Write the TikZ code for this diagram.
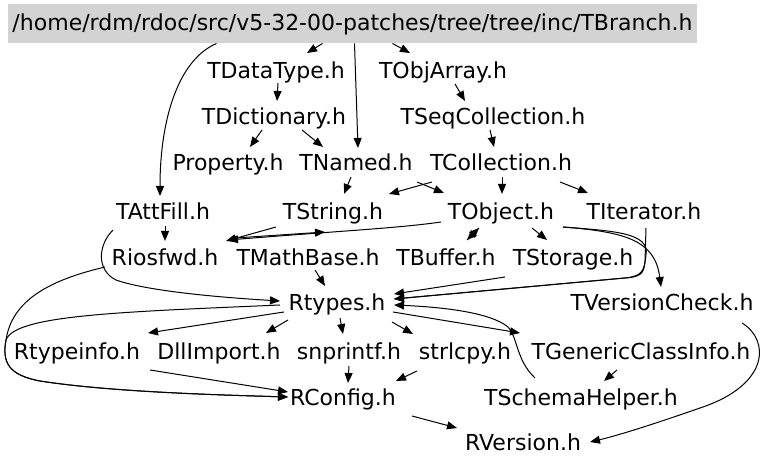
\documentclass[tikz,border=0pt]{standalone}
\usepackage{fontspec}
\setmainfont{DejaVu Sans}
\usetikzlibrary{arrows.meta,calc}
\definecolor{hdrgray}{RGB}{211,211,211}
\tikzset{
  hfile/.style={inner sep=0pt, text height=0.73em, text depth=0pt,
                font=\fontsize{11}{13}\selectfont},
  hroot/.style={hfile, fill=hdrgray, minimum width=344.5pt, minimum height=19.5pt},
  inc/.style={-{Triangle[length=5pt,width=4pt]}, line width=0.5pt, black},
}

\begin{document}
\begin{tikzpicture}[x=0.5pt, y=-0.5pt]
  \useasboundingbox (0,0) rectangle (768,469);
  % files
  \node[hroot] (tbranch) at (352.5,23.5) {/home/rdm/rdoc/src/v5-32-00-patches/tree/tree/inc/TBranch.h};
  \node[hfile] (tdatatype) at (276,71) {TDataType.h};
  \node[hfile] (tobjarray) at (443,71) {TObjArray.h};
  \node[hfile] (tdictionary) at (274,117) {TDictionary.h};
  \node[hfile] (tseqcoll) at (493,117) {TSeqCollection.h};
  \node[hfile] (property) at (228,163) {Property.h};
  \node[hfile] (tnamed) at (356,163) {TNamed.h};
  \node[hfile] (tcollection) at (501,163) {TCollection.h};
  \node[hfile] (tattfill) at (163,212) {TAttFill.h};
  \node[hfile] (tstring) at (333,212) {TString.h};
  \node[hfile] (tobject) at (501,212) {TObject.h};
  \node[hfile] (titerator) at (644,212) {TIterator.h};
  \node[hfile] (riosfwd) at (165,258) {Riosfwd.h};
  \node[hfile] (tmathbase) at (308,258) {TMathBase.h};
  \node[hfile] (tbuffer) at (446,258) {TBuffer.h};
  \node[hfile] (tstorage) at (573,258) {TStorage.h};
  \node[hfile] (rtypes) at (337,303) {Rtypes.h};
  \node[hfile] (tversioncheck) at (662,303) {TVersionCheck.h};
  \node[hfile] (rtypeinfo) at (77,352) {Rtypeinfo.h};
  \node[hfile] (dllimport) at (219,352) {DllImport.h};
  \node[hfile] (snprintf) at (349,352) {snprintf.h};
  \node[hfile] (strlcpy) at (465,352) {strlcpy.h};
  \node[hfile] (tgeneric) at (641,352) {TGenericClassInfo.h};
  \node[hfile] (rconfig) at (343,398) {RConfig.h};
  \node[hfile] (tschema) at (581,398) {TSchemaHelper.h};
  \node[hfile] (rversion) at (523,443) {RVersion.h};

  % TBranch.h
  \draw[inc] ($(tbranch)+(-30,20)$) -- ($(tdatatype)+(31,-18)$);
  \draw[inc] ($(tbranch)+(40,20)$) -- ($(tobjarray)+(-33,-18)$);
  \draw[inc] ($(tbranch)+(2,20)$) -- ($(tnamed)+(2,-15)$);
  \draw[inc] ($(tbranch)+(-136,20)$) .. controls (178,60) and (160,120) .. ($(tattfill)+(-3,-16)$);
  % upper levels
  \draw[inc] ($(tdatatype)+(2,12)$) -- ($(tdictionary)+(3,-16)$);
  \draw[inc] ($(tobjarray)+(12,13)$) -- ($(tseqcoll)+(-28,-16)$);
  \draw[inc] ($(tdictionary)+(-12,13)$) -- ($(property)+(22,-16)$);
  \draw[inc] ($(tdictionary)+(28,13)$) -- ($(tnamed)+(-33,-16)$);
  \draw[inc] ($(tseqcoll)+(-3,13)$) -- ($(tcollection)+(-7,-16)$);
  \draw[inc] ($(tnamed)+(-5,14)$) -- ($(tstring)+(11,-18)$);
  \draw[inc] ($(tnamed)+(61,19)$) -- ($(tobject)+(-57,-19)$);
  \draw[inc] ($(tcollection)+(-69,19)$) -- ($(tstring)+(56,-18)$);
  \draw[inc] ($(tcollection)+(1,14)$) -- ($(tobject)+(1,-18)$);
  \draw[inc] ($(tcollection)+(59,19)$) -- ($(titerator)+(-56,-19)$);
  % middle
  \draw[inc] ($(tattfill)+(2,14)$) -- ($(riosfwd)+(0,-17)$);
  \draw[inc] ($(tattfill)+(-50,18)$) .. controls (98,245) and (96,270) .. (116,280)
             .. controls (150,292) and (230,298) .. ($(rtypes)+(-57,-2)$);
  \draw[inc] ($(tstring)+(-57,15)$) -- ($(riosfwd)+(61,-17)$);
  \draw[inc] ($(tobject)+(-60,10)$) .. controls (400,228) and (340,231) .. ($(riosfwd)+(63,-18)$);
  \draw[inc] ($(tstring)+(-98,26)$) -- ($(tmathbase)+(17,-26)$);
  \draw[inc] ($(tobject)+(-22,16)$) -- ($(tbuffer)+(21,-18)$);
  \draw[inc] ($(tbuffer)+(21,-18)$) -- ($(tobject)+(-22,16)$);
  \draw[inc] ($(tobject)+(31,16)$) -- ($(tstorage)+(-26,-18)$);
  \draw[inc] ($(tobject)+(62,15)$) .. controls (625,232) and (655,240) .. ($(tversioncheck)+(-1,-16)$);
  \draw[inc] ($(tobject)+(62,15)$) .. controls (615,231) and (650,233) .. (646,255)
             .. controls (644,272) and (642,276) .. (625,278) -- ($(rtypes)+(57,-4)$);
  \draw[inc] ($(titerator)+(2,16)$) -- (645,262) .. controls (644,274) and (640,277) .. (625,278)
             -- ($(rtypes)+(57,-4)$);
  \draw[inc] ($(tstorage)+(-68,19)$) -- ($(rtypes)+(57,-9)$);
  \draw[inc] ($(tmathbase)+(7,12)$) -- ($(rtypes)+(-12,-17)$);
  % Rtypes.h
  \draw[inc] ($(rtypes)+(-53,9)$) -- ($(rtypeinfo)+(71,-19)$);
  \draw[inc] ($(rtypes)+(-49,17)$) -- ($(dllimport)+(47,-19)$);
  \draw[inc] ($(rtypes)+(3,15)$) -- ($(snprintf)+(-6,-18)$);
  \draw[inc] ($(rtypes)+(55,19)$) -- ($(strlcpy)+(-52,-18)$);
  \draw[inc] ($(rtypes)+(56,9)$) -- ($(tgeneric)+(-121,-19)$);
  \draw[inc] ($(rtypes)+(-57,2)$) .. controls (120,312) and (15,315) .. (6,340)
             .. controls (2,362) and (8,375) .. (40,381)
             .. controls (110,392) and (220,395) .. ($(rconfig)+(-55,-1)$);
  \draw[inc] ($(riosfwd)+(-60,9)$) .. controls (50,280) and (12,300) .. (6,340)
             .. controls (2,362) and (8,375) .. (40,381)
             .. controls (110,392) and (220,395) .. ($(rconfig)+(-55,-1)$);
  \draw[inc] ($(tschema)+(-46,-20)$) .. controls (516,360) and (518,338) .. (508,327)
             .. controls (490,312) and (440,307) .. ($(rtypes)+(57,2)$);
  % bottom
  \draw[inc] ($(rtypeinfo)+(73,18)$) -- ($(rconfig)+(-55,-6)$);
  \draw[inc] ($(snprintf)+(0,14)$) -- ($(rconfig)+(5,-15)$);
  \draw[inc] ($(strlcpy)+(-48,19)$) -- ($(rconfig)+(53,-17)$);
  \draw[inc] ($(tgeneric)+(-24,18)$) -- ($(tschema)+(23,-17)$);
  \draw[inc] ($(rconfig)+(69,18)$) -- ($(rversion)+(-66,-15)$);
  \draw[inc] ($(tversioncheck)+(80,20)$) .. controls (770,340) and (770,385) .. (700,408)
             .. controls (660,422) and (620,435) .. ($(rversion)+(67,-1)$);
\end{tikzpicture}
\end{document}
